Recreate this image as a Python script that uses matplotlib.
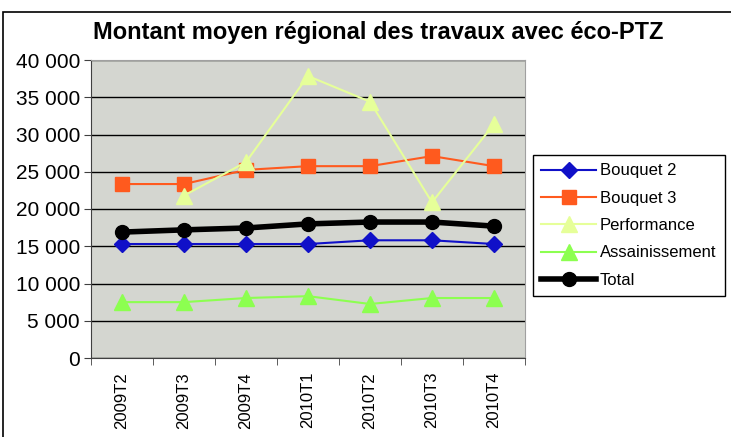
import matplotlib
matplotlib.use("Agg")
import matplotlib.pyplot as plt
from matplotlib.patches import Rectangle
from matplotlib.ticker import FuncFormatter
import numpy as np

categories = ["2009T2", "2009T3", "2009T4", "2010T1", "2010T2", "2010T3", "2010T4"]
bouquet2 = [15300, 15300, 15300, 15300, 15800, 15800, 15300]
bouquet3 = [23350, 23350, 25250, 25750, 25750, 27100, 25750]
performance = [np.nan, 21800, 26300, 37850, 34400, 20900, 31400]
assainissement = [7500, 7500, 8050, 8300, 7250, 8050, 8050]
total = [16900, 17200, 17450, 18000, 18250, 18250, 17700]

plt.rcParams['font.family'] = ['Liberation Sans', 'DejaVu Sans']

fig = plt.figure(figsize=(7.31, 4.37), dpi=100)
fig.patches.append(Rectangle((3/731, -0.2), 1.2, 1.2 - 12/437, transform=fig.transFigure,
                             fill=False, edgecolor='black', linewidth=1.2))
ax = fig.add_axes([91/731, 1 - 358/437, (525 - 91)/731, (358 - 60)/437])
ax.set_facecolor('#D4D6D0')
x = np.arange(len(categories))

ax.plot(x, bouquet2, color='#1010C8', marker='D', markersize=8, lw=1.5, label='Bouquet 2', zorder=5)
ax.plot(x, bouquet3, color='#FF5A1E', marker='s', markersize=10, lw=1.5, label='Bouquet 3', zorder=5)
ax.plot(x, performance, color='#E6FF99', marker='^', markersize=11, lw=1.5, label='Performance', zorder=5)
ax.plot(x, assainissement, color='#8CFF50', marker='^', markersize=11, lw=1.5, label='Assainissement', zorder=5)
ax.plot(x, total, color='black', marker='o', markersize=10, lw=4, label='Total', zorder=6)

ax.set_ylim(0, 40000)
ax.set_xlim(-0.5, 6.5)
ax.set_yticks(np.arange(0, 40001, 5000))
ax.yaxis.set_major_formatter(FuncFormatter(lambda v, p: f"{int(v):,}".replace(",", " ")))
ax.yaxis.grid(True, color='black', lw=1)
ax.set_axisbelow(True)
ax.set_xticks(x)
ax.set_xticklabels(categories, rotation=90, fontsize=12)
ax.set_xticks(np.arange(-0.5, 7, 1), minor=True)
ax.tick_params(axis='x', which='major', length=0, pad=10)
ax.tick_params(axis='x', which='minor', length=5, color='#404040')
ax.tick_params(axis='y', labelsize=15, length=5, color='#404040', pad=3)
for s in ['top', 'right']:
    ax.spines[s].set_color('#A0A0A0')
for s in ['left', 'bottom']:
    ax.spines[s].set_color('#404040')

fig.text(378/731, 1 - 33/437, "Montant moyen régional des travaux avec éco-PTZ",
         ha='center', va='center', fontsize=17, fontweight='bold')

leg = fig.legend(loc='upper left', bbox_to_anchor=(533/731, 1 - 155/437), fontsize=12,
                 frameon=True, fancybox=False, edgecolor='black', framealpha=1,
                 handlelength=3.3, borderpad=0.5, labelspacing=0.74, handletextpad=0.2,
                 borderaxespad=0)
leg.get_frame().set_linewidth(1)

fig.savefig("out.png", dpi=100)
